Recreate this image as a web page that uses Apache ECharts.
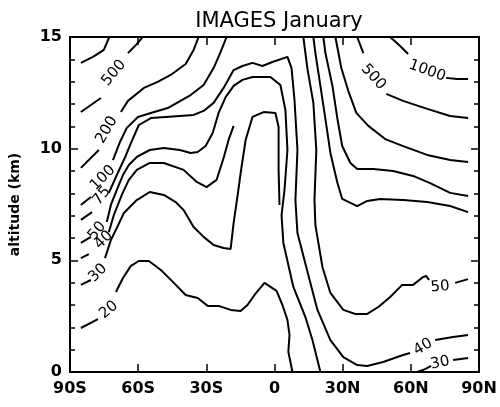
<!DOCTYPE html>
<html>
<head>
<meta charset="utf-8">
<script src="https://cdn.jsdelivr.net/npm/echarts@6/dist/echarts.min.js"></script>
<style>
  html, body { margin: 0; padding: 0; background: #fff; }
  #chart { width: 500px; height: 407px; }
</style>
</head>
<body>
<div id="chart"></div>
<script>
// tick labels
const xTickLabels = ['90S', '60S', '30S', '0', '30N', '60N', '90N']
const yTickLabels = ['0', '5', '10', '15']

// contour lines, [latitude, altitude km]; each line is a list of pieces (gaps hold the labels)
const line1000S = [
  [[-85.2, 13.84], [-79.9, 14.11], [-75.1, 14.42], [-72.7, 15.0]],
]
const line500S = [
  [[-85.2, 11.64], [-76.4, 12.27]],
  [[-64.5, 14.28], [-61.0, 14.64], [-58.0, 15.0]],
]
const line200S = [
  [[-85.2, 9.14], [-77.3, 9.94]],
  [[-67.6, 11.64], [-64.5, 12.14], [-57.5, 12.72], [-51.4, 12.99], [-45.7, 13.30],
   [-39.1, 13.79], [-35.6, 14.42], [-33.4, 15.0]],
]
const line100S = [
  [[-85.2, 7.48], [-80.8, 7.84]],
  [[-71.1, 9.49], [-68.0, 10.30], [-65.0, 10.93], [-60.1, 11.42], [-54.4, 11.60],
   [-47.0, 11.82], [-36.9, 12.40], [-31.2, 12.85], [-26.8, 13.61], [-23.7, 14.33], [-21.1, 15.0]],
]
const line75S = [
  [[-85.2, 6.81], [-80.3, 7.16]],
  [[-72.9, 8.02], [-69.4, 8.82], [-65.9, 9.58], [-63.2, 10.25], [-59.7, 11.06],
   [-54.4, 11.37], [-47.9, 11.42], [-35.6, 11.51], [-31.2, 11.69], [-26.8, 12.05],
   [-22.4, 12.72], [-18.0, 13.52], [-14.1, 13.70], [-9.7, 13.84], [-5.3, 13.70],
   [-0.9, 13.88], [5.7, 14.11], [7.5, 13.61], [8.8, 12.18], [10.1, 9.94], [9.2, 7.70],
   [10.1, 6.22], [15.8, 3.99], [18.9, 2.78], [24.6, 1.43], [30.3, 0.67], [36.4, 0.31],
   [40.8, 0.27], [47.8, 0.45], [56.6, 0.76], [59.7, 0.85]],
  [[70.7, 1.43], [78.6, 1.57], [85.2, 1.66]],
]
const line50S = [
  [[-85.2, 5.78], [-80.8, 6.05]],
  [[-73.8, 6.72], [-72.0, 7.48], [-69.4, 8.15], [-66.7, 8.82], [-64.1, 9.27],
   [-60.6, 9.63], [-54.9, 9.94], [-48.7, 10.03], [-41.7, 9.94], [-36.9, 9.81],
   [-33.8, 9.85], [-30.3, 10.12], [-27.2, 10.70], [-24.6, 11.60], [-21.5, 12.31],
   [-18.0, 12.81], [-14.1, 13.08], [-9.7, 13.21], [-1.8, 13.21], [2.6, 12.85],
   [4.8, 11.73], [5.7, 9.94], [4.4, 8.15], [3.1, 7.03], [3.9, 5.78], [8.3, 3.81],
   [13.6, 2.46], [16.7, 1.43], [20.2, 0]],
]
const line40S = [
  [[-85.2, 5.10], [-81.7, 5.28]],
  [[-72.9, 6.27], [-70.7, 7.03], [-67.2, 7.93], [-64.1, 8.60], [-60.6, 9.05],
   [-54.9, 9.36], [-48.7, 9.36], [-40.0, 9.05], [-34.2, 8.51], [-29.9, 8.28],
   [-25.5, 8.60], [-22.4, 9.58], [-20.2, 10.39], [-18.0, 11.02]],
]
const line30S = [
  [[-85.2, 3.90], [-80.8, 4.12]],
  [[-74.6, 5.10], [-72.0, 5.91], [-69.4, 6.45], [-66.3, 7.12], [-60.6, 7.70],
   [-54.9, 8.06], [-48.7, 7.93], [-43.5, 7.61], [-40.0, 7.25], [-35.6, 6.49],
   [-31.2, 6.05], [-26.8, 5.69], [-22.4, 5.55], [-19.3, 5.51], [-18.0, 6.67],
   [-16.2, 7.93], [-14.9, 8.91], [-12.7, 10.39], [-9.7, 11.42], [-4.8, 11.64],
   [0.4, 11.60], [1.8, 10.97], [1.8, 9.05], [2.2, 7.48]],
]
const line20S = [
  [[-85.2, 1.97], [-77.7, 2.37]],
  [[-69.8, 3.58], [-66.7, 4.21], [-63.2, 4.75], [-59.7, 4.97], [-55.3, 4.97],
   [-50.0, 4.57], [-44.3, 3.99], [-39.1, 3.45], [-33.8, 3.31], [-29.4, 2.96],
   [-24.6, 2.96], [-19.3, 2.78], [-14.9, 2.73], [-11.9, 3.00], [-8.8, 3.45],
   [-4.4, 3.99], [0.9, 3.63], [3.5, 3.00], [5.7, 2.33], [6.6, 1.66], [6.1, 0.90], [7.9, 0]],
]
const line50N = [
  [[12.7, 15.0], [14.5, 13.57], [17.1, 12.05], [18.4, 9.94], [17.6, 7.70], [18.0, 6.58],
   [21.1, 4.70], [24.6, 3.54], [30.3, 2.78], [35.6, 2.60], [40.8, 2.60], [45.7, 2.91],
   [50.9, 3.36], [56.2, 3.90], [61.0, 3.90], [65.4, 4.25], [66.7, 4.30], [68.0, 4.12]],
  [[79.5, 3.99], [85.2, 4.16]],
]
const line75N = [
  [[17.1, 15.0], [18.0, 14.28], [20.2, 12.81], [22.4, 11.33], [24.6, 9.81], [27.7, 8.46],
   [29.8, 7.75], [33.4, 7.57], [36.4, 7.43], [40.8, 7.66], [46.5, 7.75], [56.6, 7.70],
   [67.2, 7.61], [77.3, 7.43], [85.2, 7.16]],
]
const line100N = [
  [[21.5, 15.0], [22.4, 14.28], [25.5, 12.81], [27.7, 11.33], [29.8, 10.12], [33.4, 9.36],
   [36.4, 9.09], [43.5, 9.09], [52.2, 9.00], [61.0, 8.78], [68.5, 8.46], [77.3, 8.02], [85.2, 7.88]],
]
const line200N = [
  [[26.8, 15.0], [29.4, 13.61], [32.5, 12.58], [36.0, 11.60], [41.3, 11.02], [48.7, 10.43],
   [57.5, 10.08], [67.2, 9.72], [77.3, 9.49], [85.2, 9.40]],
]
const line500N = [
  [[36.4, 15.0], [39.1, 14.28]],
  [[49.2, 12.45], [56.6, 12.14], [67.2, 11.78], [77.3, 11.46], [85.2, 11.37]],
]
const line1000N = [
  [[50.9, 15.0], [55.3, 14.60], [58.8, 14.24]],
  [[75.5, 13.17], [80.3, 13.12], [85.2, 13.12]],
]
const line30N = [
  [[62.8, 0], [66.3, 0.13], [68.9, 0.27]],
  [[78.6, 0.54], [85.2, 0.63]],
]

const contourLines = [
  line1000S, line500S, line200S, line100S, line75S, line50S, line40S, line30S, line20S,
  line50N, line75N, line100N, line200N, line500N, line1000N, line30N,
]

// contour labels: text and where it sits [latitude, altitude km]
const labelTexts = ['500', '200', '100', '75', '50', '40', '30', '20', '500', '1000', '50', '40', '30']
const labelPlaces = [
  [-70.7, 13.39], [-73.8, 10.84], [-75.5, 8.69], [-76.0, 7.88], [-78.1, 6.31],
  [-75.1, 5.91], [-77.7, 4.43], [-72.9, 2.78], [43.5, 13.21], [67.2, 13.48],
  [72.9, 3.81], [65.4, 1.12], [72.9, 0.40],
]
const labelAngles = [50, 60, 45, 50, 50, 45, 45, 40, -48, -20, 5, 30, 12]

const font = 'DejaVu Sans'
const labelFont = {color: '#000', opacity: 1, fontFamily: font, fontSize: 15}

const series = []
contourLines.forEach(pieces => {
  pieces.forEach(piece => {
    series.push({
      type: 'line',
      data: piece,
      symbol: 'none',
      silent: true,
      lineStyle: {color: '#000', width: 2},
      z: 3,
    })
  })
})
series.push({
  type: 'scatter',
  symbolSize: 0,
  silent: true,
  z: 4,
  itemStyle: {opacity: 1, color: '#000'},
  data: labelTexts.map((t, i) => ({
    value: labelPlaces[i],
    label: {show: true, position: 'inside', formatter: t, rotate: labelAngles[i], ...labelFont},
  })),
  label: {show: true, position: 'inside', ...labelFont},
})

const tickStyle = {inside: true, length: 8, lineStyle: {color: '#000', width: 1.5}}
const minorStyle = {show: true, splitNumber: 5, length: 5, lineStyle: {color: '#000', width: 1.5}}
const noLine = {show: false, onZero: false}

const option = {
  backgroundColor: '#fff',
  animation: false,
  title: {
    text: 'IMAGES January',
    left: 274,
    top: 6,
    textAlign: 'center',
    textStyle: {fontFamily: font, fontSize: 21, fontWeight: 'normal', color: '#000'},
  },
  grid: {left: 69, right: 21, top: 37, bottom: 35, show: true, borderColor: '#000', borderWidth: 2},
  xAxis: [
    {
      type: 'value', min: -90, max: 90, interval: 30, position: 'bottom',
      axisLine: noLine,
      axisTick: tickStyle,
      splitLine: {show: false},
      axisLabel: {
        color: '#000', fontFamily: font, fontSize: 16, fontWeight: 'bold', margin: 9,
        formatter: v => xTickLabels[Math.round((v + 90) / 30)],
      },
    },
    {
      type: 'value', min: -90, max: 90, interval: 30, position: 'top',
      axisLine: noLine,
      axisTick: tickStyle,
      splitLine: {show: false},
      axisLabel: {show: false},
    },
  ],
  yAxis: [
    {
      type: 'value', min: 0, max: 15, interval: 5, position: 'left',
      name: 'altitude (km)', nameLocation: 'middle', nameGap: 48,
      nameTextStyle: {color: '#000', fontFamily: font, fontSize: 14, fontWeight: 'bold'},
      axisLine: noLine,
      axisTick: tickStyle,
      minorTick: minorStyle,
      splitLine: {show: false},
      axisLabel: {
        color: '#000', fontFamily: font, fontSize: 16, fontWeight: 'bold', margin: 8,
        formatter: v => yTickLabels[Math.round(v / 5)],
      },
    },
    {
      type: 'value', min: 0, max: 15, interval: 5, position: 'right',
      axisLine: noLine,
      axisTick: tickStyle,
      minorTick: minorStyle,
      splitLine: {show: false},
      axisLabel: {show: false},
    },
  ],
  series: series,
}

const chart = echarts.init(document.getElementById('chart'), null, {renderer: 'canvas'})
chart.setOption(option)
</script>
</body>
</html>
